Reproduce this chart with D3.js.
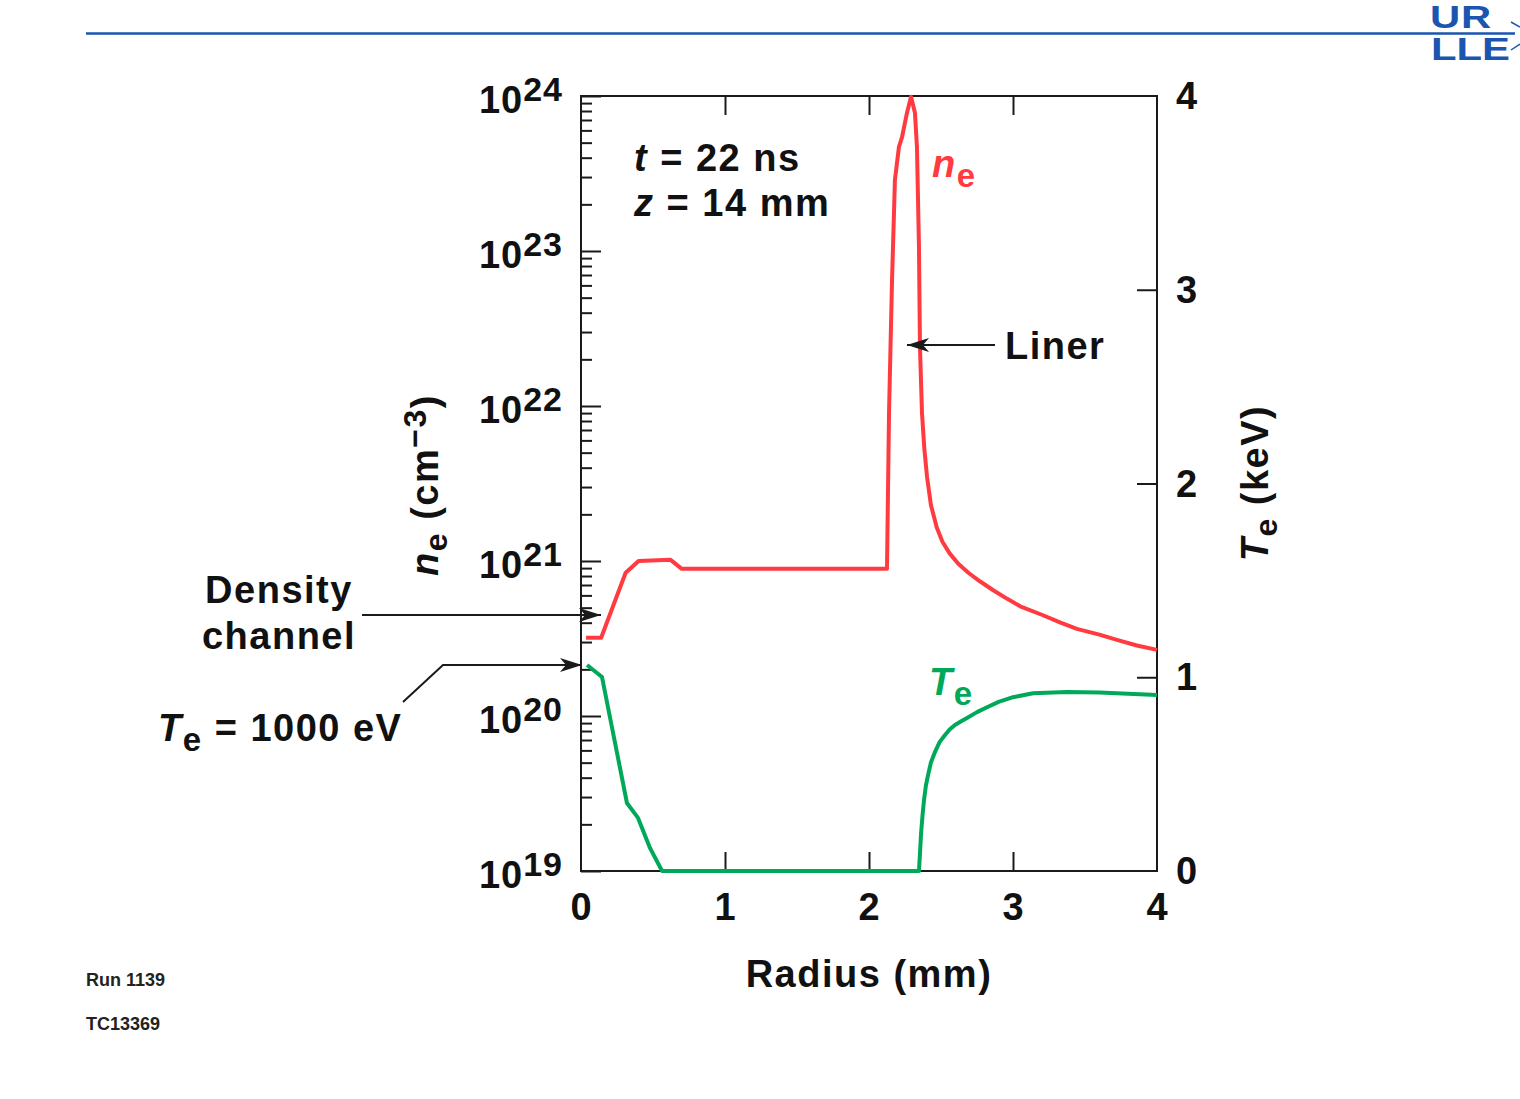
<!DOCTYPE html>
<html>
<head>
<meta charset="utf-8">
<script src="https://cdn.jsdelivr.net/npm/d3@7"></script>
<style>
  html, body { margin: 0; padding: 0; background: #fff; }
  svg { display: block; font-family: "Liberation Sans", Arial, Helvetica, sans-serif; font-weight: bold; }
</style>
</head>
<body>
<svg id="chart" width="1520" height="1099"></svg>
<script>
// ---- data ----
const neRadius = [0.035, 0.14, 0.31, 0.40, 0.62, 0.70, 2.125, 2.139, 2.16, 2.18, 2.208, 2.229, 2.264, 2.292, 2.319, 2.333, 2.347, 2.354, 2.368, 2.385, 2.403, 2.43, 2.47, 2.51, 2.56, 2.62, 2.69, 2.77, 2.86, 2.96, 3.05, 3.2, 3.33, 3.444, 3.6, 3.722, 3.86, 4.0];
const neValues = [3.2e20, 3.2e20, 8.4e20, 1.0e21, 1.02e21, 8.9e20, 8.9e20, 9.0e21, 6.5e22, 2.87e23, 4.7e23, 5.4e23, 7.8e23, 9.9e23, 7.8e23, 4.7e23, 1.06e23, 2.4e22, 9.0e21, 5.2e21, 3.5e21, 2.3e21, 1.65e21, 1.33e21, 1.12e21, 9.6e20, 8.4e20, 7.4e20, 6.5e20, 5.7e20, 5.1e20, 4.5e20, 4.0e20, 3.65e20, 3.35e20, 3.1e20, 2.85e20, 2.67e20];
const teRadius = [0.042, 0.146, 0.319, 0.396, 0.479, 0.563, 2.347, 2.354, 2.361, 2.372, 2.382, 2.395, 2.41, 2.43, 2.458, 2.49, 2.528, 2.56, 2.597, 2.64, 2.681, 2.75, 2.82, 2.9, 3.0, 3.139, 3.375, 3.6, 3.8, 4.0];
const teValues = [1.063, 1.001, 0.351, 0.274, 0.119, 0.0, 0.0, 0.09, 0.186, 0.29, 0.366, 0.44, 0.495, 0.56, 0.614, 0.665, 0.702, 0.73, 0.754, 0.773, 0.79, 0.82, 0.845, 0.873, 0.897, 0.917, 0.924, 0.921, 0.915, 0.908];
const xTickValues = [0, 1, 2, 3, 4];
const teTickValues = [0, 1, 2, 3, 4];
const neDecadeExponents = [19, 20, 21, 22, 23, 24];

// ---- layout ----
const svg = d3.select("#chart");
const L = 581, R = 1157, T = 96, B = 871;
const x = d3.scaleLinear().domain([0, 4]).range([L, R]);
const yNe = d3.scaleLog().domain([1e19, 1e24]).range([B, T]);
const yTe = d3.scaleLinear().domain([0, 4]).range([B, T]);
const ink = "#1a1a1a";
const red = "#ff3b41";
const green = "#00a859";
const blue = "#1a55b0";
const FS = 38, LS = 1.5;

// header rule + logo
svg.append("line").attr("x1", 86).attr("x2", 1515).attr("y1", 33.5).attr("y2", 33.5)
  .attr("stroke", blue).attr("stroke-width", 2.5);
svg.append("text").attr("transform", "translate(1430,28) scale(1.35,1)").attr("font-size", 31).attr("fill", blue)
  .attr("font-weight", 900).attr("letter-spacing", 0.5).text("UR");
svg.append("text").attr("transform", "translate(1431,60) scale(1.35,1)").attr("font-size", 31).attr("fill", blue)
  .attr("font-weight", 900).text("LLE");
svg.append("path").attr("d", "M1511,22 L1520,27 M1511,50 L1520,44").attr("stroke", blue).attr("stroke-width", 1.5).attr("fill", "none");

// minor log ticks
const minorVals = [];
for (let e = 19; e < 24; e++) for (let m = 2; m <= 9; m++) minorVals.push(m * Math.pow(10, e));
const gMinor = svg.append("g").attr("transform", `translate(${L},0)`)
  .call(d3.axisRight(yNe).tickValues(minorVals).tickSize(11).tickFormat(""));
gMinor.select(".domain").remove();
const gMajor = svg.append("g").attr("transform", `translate(${L},0)`)
  .call(d3.axisRight(yNe).tickValues(neDecadeExponents.map(e => Math.pow(10, e))).tickSize(20).tickFormat(""));
gMajor.select(".domain").remove();

// right axis ticks (inward)
const gRight = svg.append("g").attr("transform", `translate(${R},0)`)
  .call(d3.axisLeft(yTe).tickValues([1, 2, 3]).tickSize(20).tickFormat(""));
gRight.select(".domain").remove();
// top & bottom ticks (inward)
const gTop = svg.append("g").attr("transform", `translate(0,${T})`)
  .call(d3.axisBottom(x).tickValues([1, 2, 3]).tickSize(19).tickFormat(""));
gTop.select(".domain").remove();
const gBot = svg.append("g").attr("transform", `translate(0,${B})`)
  .call(d3.axisTop(x).tickValues([1, 2, 3]).tickSize(19).tickFormat(""));
gBot.select(".domain").remove();
svg.selectAll(".tick line").attr("stroke", ink).attr("stroke-width", 2);

// frame
svg.append("rect").attr("x", L).attr("y", T).attr("width", R - L).attr("height", B - T)
  .attr("fill", "none").attr("stroke", ink).attr("stroke-width", 2);

// left tick labels 10^n
neDecadeExponents.forEach(e => {
  const t = svg.append("text").attr("x", 563).attr("y", yNe(Math.pow(10, e)) + 17)
    .attr("text-anchor", "end").attr("font-size", FS).attr("letter-spacing", 1).attr("fill", "#111");
  t.append("tspan").text("10");
  t.append("tspan").attr("dy", -12).attr("font-size", 34).text(String(e));
});
// right tick labels
teTickValues.forEach(v => {
  svg.append("text").attr("x", 1176).attr("y", yTe(v) + 13).attr("font-size", FS).attr("fill", "#111").text(v);
});
// bottom tick labels
xTickValues.forEach(v => {
  svg.append("text").attr("x", x(v)).attr("y", 920).attr("text-anchor", "middle").attr("font-size", FS).attr("fill", "#111").text(v);
});

// axis titles
svg.append("text").attr("x", 869).attr("y", 987).attr("text-anchor", "middle").attr("font-size", FS)
  .attr("letter-spacing", LS).attr("fill", "#111").text("Radius (mm)");
{
  const t = svg.append("text").attr("transform", "translate(438,485) rotate(-90)").attr("text-anchor", "middle")
    .attr("font-size", FS).attr("letter-spacing", LS).attr("fill", "#111");
  t.append("tspan").attr("font-style", "italic").text("n");
  t.append("tspan").attr("dy", 9).attr("font-size", 32).text("e");
  t.append("tspan").attr("dy", -9).text(" (cm");
  t.append("tspan").attr("dy", -12).attr("font-size", 32).text("\u22123");
  t.append("tspan").attr("dy", 12).text(")");
}
{
  const t = svg.append("text").attr("transform", "translate(1268,483) rotate(-90)").attr("text-anchor", "middle")
    .attr("font-size", FS).attr("letter-spacing", LS).attr("fill", "#111");
  t.append("tspan").attr("font-style", "italic").text("T");
  t.append("tspan").attr("dy", 9).attr("font-size", 32).text("e");
  t.append("tspan").attr("dy", -9).text(" (keV)");
}

// curves
const lineNe = d3.line().x((d, i) => x(neRadius[i])).y(d => yNe(d));
svg.append("path").datum(neValues).attr("d", lineNe).attr("fill", "none").attr("stroke", red)
  .attr("stroke-width", 4).attr("stroke-linejoin", "round");
const lineTe = d3.line().x((d, i) => x(teRadius[i])).y(d => yTe(d));
svg.append("path").datum(teValues).attr("d", lineTe).attr("fill", "none").attr("stroke", green)
  .attr("stroke-width", 4).attr("stroke-linejoin", "round");

// in-plot annotations
{
  const t1 = svg.append("text").attr("x", 634).attr("y", 171).attr("font-size", FS).attr("letter-spacing", LS).attr("fill", "#111");
  t1.append("tspan").attr("font-style", "italic").text("t");
  t1.append("tspan").text(" = 22 ns");
  const t2 = svg.append("text").attr("x", 634).attr("y", 216).attr("font-size", FS).attr("letter-spacing", LS).attr("fill", "#111");
  t2.append("tspan").attr("font-style", "italic").text("z");
  t2.append("tspan").text(" = 14 mm");
}
{
  const t = svg.append("text").attr("x", 932).attr("y", 177).attr("font-size", FS).attr("letter-spacing", LS).attr("fill", red);
  t.append("tspan").attr("font-style", "italic").text("n");
  t.append("tspan").attr("dy", 10).attr("font-size", 33).text("e");
}
{
  const t = svg.append("text").attr("x", 929).attr("y", 695).attr("font-size", FS).attr("letter-spacing", LS).attr("fill", green);
  t.append("tspan").attr("font-style", "italic").text("T");
  t.append("tspan").attr("dy", 10).attr("font-size", 33).text("e");
}
svg.append("text").attr("x", 1005).attr("y", 359).attr("font-size", FS).attr("letter-spacing", LS).attr("fill", "#111").text("Liner");

// arrows
const defs = svg.append("defs");
defs.append("marker").attr("id", "arr").attr("viewBox", "0 0 22 14").attr("refX", 22).attr("refY", 7)
  .attr("markerWidth", 22).attr("markerHeight", 14).attr("markerUnits", "userSpaceOnUse").attr("orient", "auto")
  .append("path").attr("d", "M0,0 L22,7 L0,14 L6,7 Z").attr("fill", ink);
svg.append("line").attr("x1", 995).attr("y1", 345).attr("x2", 907).attr("y2", 345)
  .attr("stroke", ink).attr("stroke-width", 2).attr("marker-end", "url(#arr)");
svg.append("line").attr("x1", 362).attr("y1", 615).attr("x2", 601).attr("y2", 615)
  .attr("stroke", ink).attr("stroke-width", 2).attr("marker-end", "url(#arr)");
svg.append("polyline").attr("points", "403,702 443,665 582,665").attr("fill", "none")
  .attr("stroke", ink).attr("stroke-width", 2).attr("marker-end", "url(#arr)");

// left annotations
svg.append("text").attr("x", 279).attr("y", 603).attr("text-anchor", "middle").attr("font-size", FS).attr("letter-spacing", LS).attr("fill", "#111").text("Density");
svg.append("text").attr("x", 279).attr("y", 649).attr("text-anchor", "middle").attr("font-size", FS).attr("letter-spacing", LS).attr("fill", "#111").text("channel");
{
  const t = svg.append("text").attr("x", 158).attr("y", 741).attr("font-size", FS).attr("letter-spacing", LS).attr("fill", "#111");
  t.append("tspan").attr("font-style", "italic").text("T");
  t.append("tspan").attr("dy", 10).attr("font-size", 33).text("e");
  t.append("tspan").attr("dy", -10).text(" = 1000 eV");
}

// footer
svg.append("text").attr("x", 86).attr("y", 986).attr("font-size", 18).attr("fill", "#222").text("Run 1139");
svg.append("text").attr("x", 86).attr("y", 1030).attr("font-size", 18).attr("fill", "#222").text("TC13369");
</script>
</body>
</html>
